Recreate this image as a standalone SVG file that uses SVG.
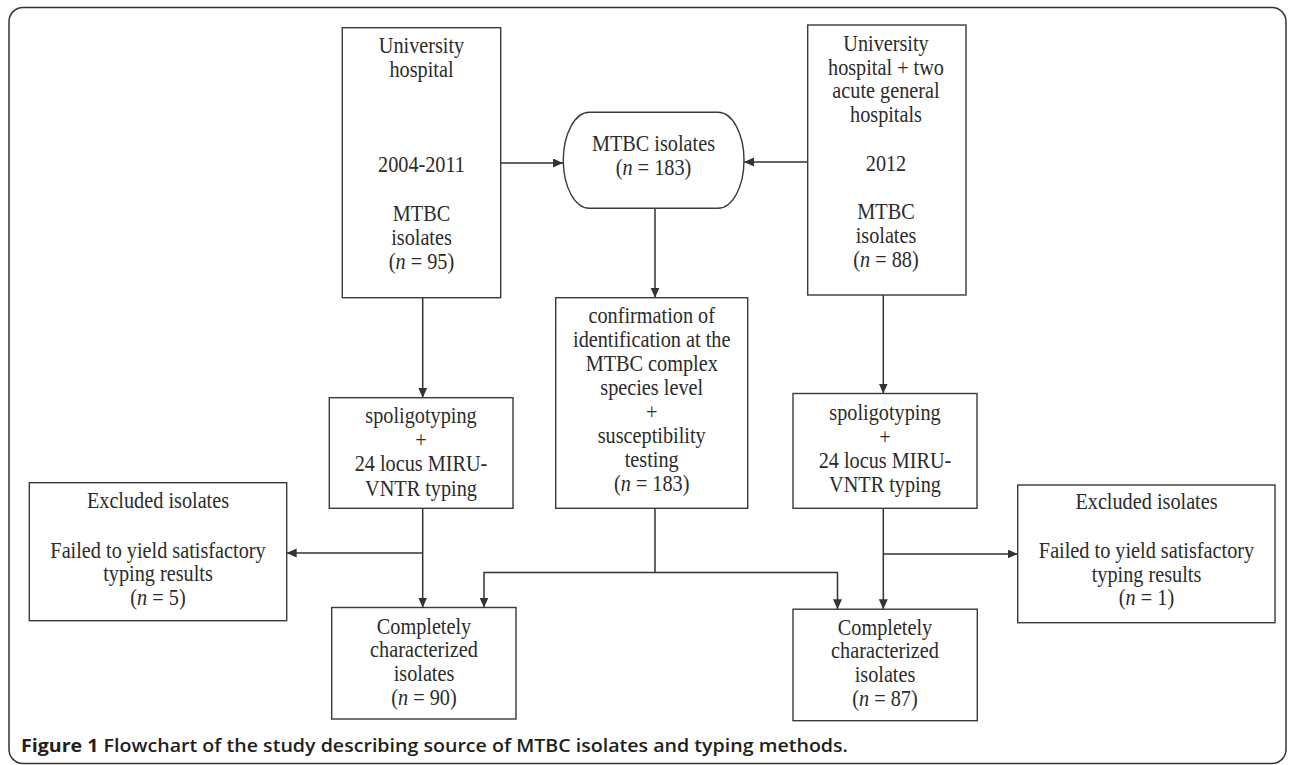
<svg xmlns="http://www.w3.org/2000/svg" width="1290" height="765" viewBox="0 0 1290 765">
<defs>
<style>
.box{fill:#fff;stroke:#3a3a3a;stroke-width:1.4}
.t{font-family:"Liberation Serif","Times New Roman",serif;font-size:22.5px;fill:#2b2b2b;text-anchor:middle}
.it{font-style:italic}
.con{fill:none;stroke:#333;stroke-width:1.5}
.cap{font-family:"Open Sans","Liberation Sans",sans-serif;font-size:18.5px;font-weight:700;fill:#231f20}
</style>
<marker id="arr" markerUnits="userSpaceOnUse" markerWidth="11" markerHeight="10" refX="10" refY="4.5" orient="auto">
<path d="M0,0 L10,4.5 L0,9 z" fill="#333"/>
</marker>
</defs>
<rect x="9" y="7.5" width="1277" height="756" rx="14" ry="14" fill="#fff" stroke="#333" stroke-width="1.5"/>

<g id="connectors">
<path class="con" d="M501,163 H563" marker-end="url(#arr)"/>
<path class="con" d="M808,162 H744" marker-end="url(#arr)"/>
<path class="con" d="M655,208.5 V297.7" marker-end="url(#arr)"/>
<path class="con" d="M422.7,297.7 V397.7" marker-end="url(#arr)"/>
<path class="con" d="M883.3,295 V393.5" marker-end="url(#arr)"/>
<path class="con" d="M422.7,508.3 V607.5" marker-end="url(#arr)"/>
<path class="con" d="M422.7,553 H286.7" marker-end="url(#arr)"/>
<path class="con" d="M883.3,508.3 V609.2" marker-end="url(#arr)"/>
<path class="con" d="M883.3,554 H1017.7" marker-end="url(#arr)"/>
<path class="con" d="M655,508.3 V572.5"/>
<path class="con" d="M655,572.5 H484 V607.5" marker-end="url(#arr)"/>
<path class="con" d="M655,572.5 H837.5 V609.2" marker-end="url(#arr)"/>
</g>

<g id="uh2004">
<rect class="box" x="342.3" y="27.7" width="158.4" height="270"/>
<g transform="translate(421.5 0) scale(0.9 1)">
<text class="t" x="0" y="53">University</text>
<text class="t" x="0" y="77">hospital</text>
<text class="t" x="0" y="172">2004-2011</text>
<text class="t" x="0" y="221">MTBC</text>
<text class="t" x="0" y="245">isolates</text>
<text class="t" x="0" y="269">(<tspan class="it">n</tspan> = 95)</text>
</g>
</g>

<g id="mtbc183">
<rect class="box" x="563.3" y="112.3" width="180.7" height="96" rx="26" ry="48"/>
<g transform="translate(653.5 0) scale(0.9 1)">
<text class="t" x="0" y="151">MTBC isolates</text>
<text class="t" x="0" y="175">(<tspan class="it">n</tspan> = 183)</text>
</g>
</g>

<g id="uh2012">
<rect class="box" x="807.7" y="25" width="158.3" height="270"/>
<g transform="translate(886 0) scale(0.9 1)">
<text class="t" x="0" y="51">University</text>
<text class="t" x="0" y="75">hospital + two</text>
<text class="t" x="0" y="98">acute general</text>
<text class="t" x="0" y="122">hospitals</text>
<text class="t" x="0" y="171">2012</text>
<text class="t" x="0" y="219">MTBC</text>
<text class="t" x="0" y="243">isolates</text>
<text class="t" x="0" y="267">(<tspan class="it">n</tspan> = 88)</text>
</g>
</g>

<g id="confirm">
<rect class="box" x="555.7" y="297.7" width="192" height="210.6"/>
<g transform="translate(651.7 0) scale(0.9 1)">
<text class="t" x="0" y="323">confirmation of</text>
<text class="t" x="0" y="347">identification at the</text>
<text class="t" x="0" y="371">MTBC complex</text>
<text class="t" x="0" y="395">species level</text>
<text class="t" x="0" y="419">+</text>
<text class="t" x="0" y="443">susceptibility</text>
<text class="t" x="0" y="467">testing</text>
<text class="t" x="0" y="491">(<tspan class="it">n</tspan> = 183)</text>
</g>
</g>

<g id="spoligoL">
<rect class="box" x="329.3" y="397.7" width="183.7" height="110.6"/>
<g transform="translate(421 0) scale(0.9 1)">
<text class="t" x="0" y="423">spoligotyping</text>
<text class="t" x="0" y="447">+</text>
<text class="t" x="0" y="471">24 locus MIRU-</text>
<text class="t" x="0" y="496">VNTR typing</text>
</g>
</g>

<g id="spoligoR">
<rect class="box" x="793" y="393.5" width="184" height="114.8"/>
<g transform="translate(885 0) scale(0.9 1)">
<text class="t" x="0" y="420">spoligotyping</text>
<text class="t" x="0" y="444">+</text>
<text class="t" x="0" y="468">24 locus MIRU-</text>
<text class="t" x="0" y="492">VNTR typing</text>
</g>
</g>

<g id="excludedL">
<rect class="box" x="29.3" y="482.7" width="257.4" height="138"/>
<g transform="translate(158 0) scale(0.9 1)">
<text class="t" x="0" y="508">Excluded isolates</text>
<text class="t" x="0" y="558">Failed to yield satisfactory</text>
<text class="t" x="0" y="581">typing results</text>
<text class="t" x="0" y="605">(<tspan class="it">n</tspan> = 5)</text>
</g>
</g>

<g id="excludedR">
<rect class="box" x="1017.7" y="485" width="257.3" height="137.7"/>
<g transform="translate(1146.5 0) scale(0.9 1)">
<text class="t" x="0" y="509">Excluded isolates</text>
<text class="t" x="0" y="558">Failed to yield satisfactory</text>
<text class="t" x="0" y="582">typing results</text>
<text class="t" x="0" y="605">(<tspan class="it">n</tspan> = 1)</text>
</g>
</g>

<g id="completeL">
<rect class="box" x="331.7" y="607.5" width="184.3" height="111.5"/>
<g transform="translate(424 0) scale(0.9 1)">
<text class="t" x="0" y="634">Completely</text>
<text class="t" x="0" y="657">characterized</text>
<text class="t" x="0" y="681">isolates</text>
<text class="t" x="0" y="705">(<tspan class="it">n</tspan> = 90)</text>
</g>
</g>

<g id="completeR">
<rect class="box" x="793" y="609.2" width="184.3" height="111.5"/>
<g transform="translate(885 0) scale(0.9 1)">
<text class="t" x="0" y="635">Completely</text>
<text class="t" x="0" y="658">characterized</text>
<text class="t" x="0" y="682">isolates</text>
<text class="t" x="0" y="706">(<tspan class="it">n</tspan> = 87)</text>
</g>
</g>

<text class="cap" x="21" y="752" textLength="827" lengthAdjust="spacingAndGlyphs">Figure 1 <tspan font-weight="600">Flowchart of the study describing source of MTBC isolates and typing methods.</tspan></text>
</svg>
